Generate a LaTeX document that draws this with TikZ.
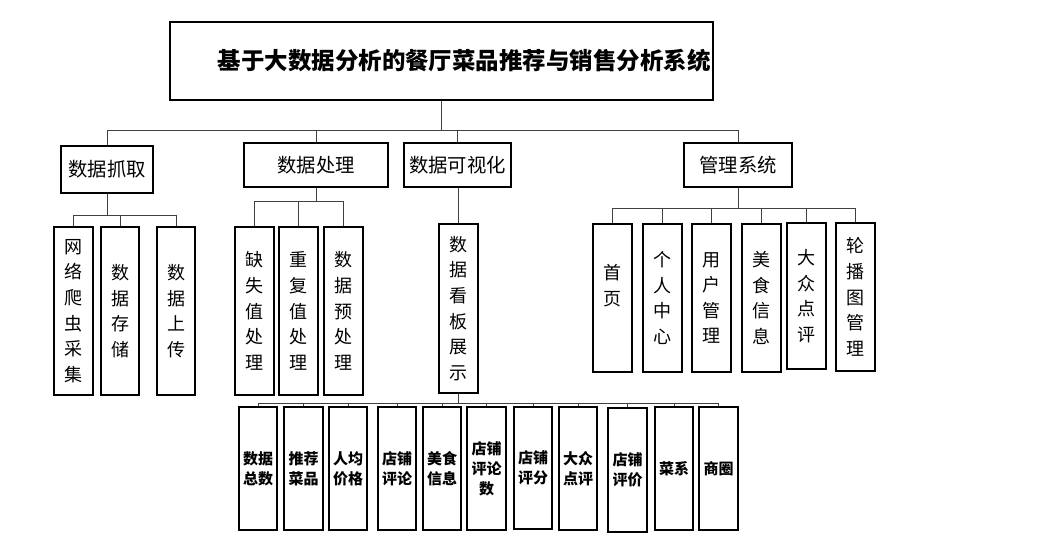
\documentclass[tikz,border=0pt]{standalone}
\usepackage{fontspec}
\newfontfamily\cjk{Noto Sans CJK SC}
\newcommand\mybox[7]{\node[#1, minimum width={(#5-#3)*0.75pt}, minimum height={(#6-#4)*0.75pt}] (#2) at ({(#3+#5)/2},{(#4+#6)/2}) {#7};}
\tikzset{
  box/.style={draw=black, line width=0.9pt, inner sep=0pt, align=center, fill=white},
  conn/.style={draw=black!75, line width=0.75pt},
  ttl/.style={box, font=\cjk\bfseries\fontsize{17.6}{20}\selectfont},
  lvl/.style={box, font=\cjk\fontsize{14.5}{17}\selectfont},
  leaf/.style={box, font=\cjk\fontsize{13.5}{19.2}\selectfont},
  small/.style={box, font=\cjk\bfseries\fontsize{11.25}{15}\selectfont},
}
\begin{document}
\begin{tikzpicture}[x=0.75pt, y=-0.75pt]
\fill[white] (0,0) rectangle (1047,556);
\useasboundingbox (0,0) rectangle (1047,556);
% title
\mybox{ttl}{t}{170}{22}{713}{100}{\hspace*{34pt}基于大数据分析的餐厅菜品推荐与销售分析系统}
% level 1
\mybox{lvl}{a}{61}{146}{153}{193}{数据抓取}
\mybox{lvl}{b}{244}{143}{388}{187}{数据处理}
\mybox{lvl}{c}{404}{143}{511}{187}{数据可视化}
\mybox{lvl}{d}{684}{143}{792}{187}{管理系统}
% a leaves
\mybox{leaf}{a1}{54}{227}{93}{395}{网\\络\\爬\\虫\\采\\集}
\mybox{leaf}{a2}{101}{227}{139}{395}{数\\据\\存\\储}
\mybox{leaf}{a3}{157}{227}{195}{395}{数\\据\\上\\传}
% b leaves
\mybox{leaf}{b1}{235}{227}{274}{395}{缺\\失\\值\\处\\理}
\mybox{leaf}{b2}{279}{227}{318}{395}{重\\复\\值\\处\\理}
\mybox{leaf}{b3}{324}{227}{363}{395}{数\\据\\预\\处\\理}
% c leaf
\mybox{leaf}{c1}{439}{224}{478}{393}{数\\据\\看\\板\\展\\示}
% d leaves
\mybox{leaf}{d1}{593}{224}{632}{372}{首\\页\\~}
\mybox{leaf}{d2}{643}{224}{682}{372}{个\\人\\中\\心}
\mybox{leaf}{d3}{692}{224}{731}{372}{用\\户\\管\\理}
\mybox{leaf}{d4}{742}{224}{781}{372}{美\\食\\信\\息}
\mybox{leaf}{d5}{787}{223}{826}{369}{大\\众\\点\\评}
\mybox{leaf}{d6}{836}{223}{875}{371}{轮\\播\\图\\管\\理}
% bottom row
\mybox{small}{e1}{239}{407}{277}{530}{数据\\总数}
\mybox{small}{e2}{284}{407}{323}{530}{推荐\\菜品}
\mybox{small}{e3}{329}{407}{367}{530}{人均\\价格}
\mybox{small}{e4}{378}{407}{416}{530}{店铺\\评论}
\mybox{small}{e5}{423}{407}{461}{530}{美食\\信息}
\mybox{small}{e6}{467}{407}{506}{530}{店铺\\评论\\数}
\mybox{small}{e7}{514}{407}{552}{529}{店铺\\评分}
\mybox{small}{e8}{559}{407}{597}{530}{大众\\点评}
\mybox{small}{e9}{608}{408}{647}{532}{店铺\\评价}
\mybox{small}{e10}{655}{407}{693}{530}{菜系}
\mybox{small}{e11}{699}{407}{738}{530}{商圈}
% connectors
\foreach \ch in {a,b,c,d}{\draw[conn] (t.south) -- (t.south |- 0,131) -| (\ch.north);}
\foreach \ch in {a1,a2,a3}{\draw[conn] (a.south) -- (a.south |- 0,216) -| (\ch.north);}
\foreach \ch in {b1,b2,b3}{\draw[conn] (b.south) -- (b.south |- 0,202) -| (\ch.north);}
\draw[conn] (c1.north |- c.south) -- (c1.north);
\foreach \ch in {d1,d2,d3,d4,d5,d6}{\draw[conn] (d.south) -- (d.south |- 0,209) -| (\ch.north);}
\foreach \ch in {e1,e2,e3,e4,e5,e6,e7,e8,e9,e10,e11}{\draw[conn] (c1.south) -- (c1.south |- 0,403) -| (\ch.north);}
\end{tikzpicture}
\end{document}
